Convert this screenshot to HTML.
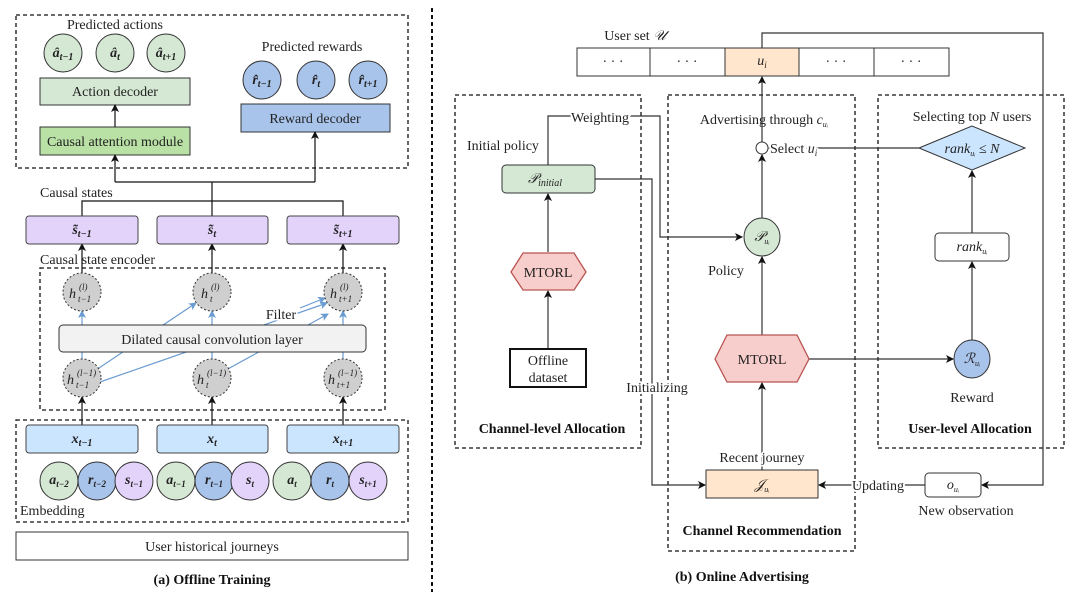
<!DOCTYPE html>
<html><head><meta charset="utf-8"><style>
html,body{margin:0;padding:0;background:#fff;}
svg{display:block;font-family:"Liberation Serif",serif;}
.t{font-size:14px;fill:#222;}
.m{font-style:italic;font-size:14px;fill:#222;}
.s{font-style:italic;font-size:9px;fill:#222;}
.b{font-weight:bold;font-size:14px;fill:#111;}
</style></head><body>
<svg width="1080" height="600" viewBox="0 0 1080 600" xmlns="http://www.w3.org/2000/svg">
<defs>
<marker id="a" markerWidth="8" markerHeight="8" refX="7" refY="4" orient="auto" markerUnits="userSpaceOnUse"><path d="M0,0 L8,4 L0,8 L2,4 z" fill="#111"/></marker>
<marker id="ab" markerWidth="8" markerHeight="8" refX="7" refY="4" orient="auto" markerUnits="userSpaceOnUse"><path d="M0,0 L8,4 L0,8 L2,4 z" fill="#6a9bd1"/></marker>
</defs>
<g fill="none" stroke="#111" stroke-width="1.3" stroke-dasharray="4,3">
<rect x="16" y="15" width="392" height="153"/>
<rect x="40" y="268" width="345" height="142"/>
<rect x="16" y="420" width="392" height="102"/>
<line x1="432" y1="8" x2="432" y2="592" stroke-width="2"/>
<rect x="455" y="95" width="186" height="353"/>
<rect x="668" y="95" width="187" height="456"/>
<rect x="878" y="95" width="186" height="353"/>
</g>
<!-- LEFT -->
<text class="t" x="115" y="29" text-anchor="middle">Predicted actions</text>
<g stroke="#333" fill="#d5e8d4">
<circle cx="63" cy="53" r="19"/><circle cx="115" cy="53" r="19"/><circle cx="166" cy="53" r="19"/>
<rect x="40" y="78" width="150" height="27"/>
<rect x="40" y="127" width="150" height="28" fill="#b9e0a5"/>
</g>
<text class="m" font-weight="bold" x="63" y="57" text-anchor="middle">â<tspan font-size="10" dy="3">t−1</tspan></text>
<text class="m" font-weight="bold" x="115" y="57" text-anchor="middle">â<tspan font-size="10" dy="3">t</tspan></text>
<text class="m" font-weight="bold" x="166" y="57" text-anchor="middle">â<tspan font-size="10" dy="3">t+1</tspan></text>
<text class="t" x="115" y="96" text-anchor="middle">Action decoder</text>
<text class="t" x="115" y="146" text-anchor="middle">Causal attention module</text>
<text class="t" x="312" y="51" text-anchor="middle">Predicted rewards</text>
<g stroke="#333" fill="#a9c4eb">
<circle cx="262" cy="80" r="19"/><circle cx="316" cy="80" r="19"/><circle cx="368" cy="80" r="19"/>
<rect x="241" y="104" width="149" height="28"/>
</g>
<text class="m" font-weight="bold" x="262" y="84" text-anchor="middle">r̂<tspan font-size="10" dy="3">t−1</tspan></text>
<text class="m" font-weight="bold" x="316" y="84" text-anchor="middle">r̂<tspan font-size="10" dy="3">t</tspan></text>
<text class="m" font-weight="bold" x="368" y="84" text-anchor="middle">r̂<tspan font-size="10" dy="3">t+1</tspan></text>
<text class="t" x="315" y="123" text-anchor="middle">Reward decoder</text>
<g stroke="#111" stroke-width="1.2" fill="none">
<line x1="115" y1="127" x2="115" y2="105" marker-end="url(#a)"/>
<polyline points="115,182 315,182"/>
<line x1="115" y1="182" x2="115" y2="155" marker-end="url(#a)"/>
<line x1="315" y1="182" x2="315" y2="132" marker-end="url(#a)"/>
<line x1="212" y1="182" x2="212" y2="216"/>
<polyline points="82,216 82,201 343,201 343,216"/>
<line x1="82" y1="273" x2="82" y2="244" marker-end="url(#a)"/>
<line x1="212" y1="273" x2="212" y2="244" marker-end="url(#a)"/>
<line x1="343" y1="273" x2="343" y2="244" marker-end="url(#a)"/>
<line x1="82" y1="425" x2="82" y2="397" marker-end="url(#a)"/>
<line x1="212" y1="425" x2="212" y2="397" marker-end="url(#a)"/>
<line x1="343" y1="425" x2="343" y2="397" marker-end="url(#a)"/>
</g>
<text class="t" x="40" y="197">Causal states</text>
<g stroke="#444" fill="#e3d3fb">
<rect x="26" y="216" width="112" height="28" rx="3"/><rect x="157" y="216" width="111" height="28" rx="3"/><rect x="287" y="216" width="112" height="28" rx="3"/>
</g>
<text class="m" font-weight="bold" x="82" y="234" text-anchor="middle">s̃<tspan font-size="10" dy="3">t−1</tspan></text>
<text class="m" font-weight="bold" x="212" y="234" text-anchor="middle">s̃<tspan font-size="10" dy="3">t</tspan></text>
<text class="m" font-weight="bold" x="343" y="234" text-anchor="middle">s̃<tspan font-size="10" dy="3">t+1</tspan></text>
<text class="t" x="40" y="264">Causal state encoder</text>
<g stroke="#6a9bd1" stroke-width="1.2" fill="none">
<line x1="82" y1="325" x2="82" y2="311" marker-end="url(#ab)"/>
<line x1="212" y1="325" x2="212" y2="311" marker-end="url(#ab)"/>
<line x1="343" y1="325" x2="343" y2="311" marker-end="url(#ab)"/>
<line x1="82" y1="359" x2="82" y2="352"/><line x1="212" y1="359" x2="212" y2="352"/><line x1="343" y1="359" x2="343" y2="352"/>
<line x1="96" y1="370" x2="196" y2="303" marker-end="url(#ab)"/>
<line x1="100" y1="382" x2="327" y2="303" marker-end="url(#ab)"/>
<line x1="226" y1="370" x2="328" y2="314" marker-end="url(#ab)"/>
<line x1="300" y1="308" x2="325" y2="298" marker-end="url(#ab)"/>
</g>
<rect x="59" y="325" width="307" height="27" rx="4" fill="#f2f2f2" stroke="#333"/>
<text class="t" x="212" y="344" text-anchor="middle">Dilated causal convolution layer</text>
<text class="t" x="281" y="319" text-anchor="middle" style="paint-order:stroke" stroke="#fff" stroke-width="3">Filter</text>
<g stroke="#333" fill="#cfcfcf" stroke-dasharray="2,2">
<circle cx="82" cy="292" r="19"/><circle cx="212" cy="292" r="19"/><circle cx="343" cy="292" r="19"/>
<circle cx="82" cy="378" r="19"/><circle cx="212" cy="378" r="19"/><circle cx="343" cy="378" r="19"/>
</g>
<g>
<text class="m" x="69" y="298" font-size="16">h</text><text class="s" x="79" y="290">(l)</text><text class="s" x="78" y="302">t−1</text>
<text class="m" x="201" y="298" font-size="16">h</text><text class="s" x="211" y="290">(l)</text><text class="s" x="210" y="302">t</text>
<text class="m" x="330" y="298" font-size="16">h</text><text class="s" x="340" y="290">(l)</text><text class="s" x="339" y="302">t+1</text>
<text class="m" x="67" y="384" font-size="16">h</text><text class="s" x="77" y="376">(l−1)</text><text class="s" x="76" y="388">t−1</text>
<text class="m" x="197" y="384" font-size="16">h</text><text class="s" x="207" y="376">(l−1)</text><text class="s" x="206" y="388">t</text>
<text class="m" x="328" y="384" font-size="16">h</text><text class="s" x="338" y="376">(l−1)</text><text class="s" x="337" y="388">t+1</text>
</g>
<g stroke="#444" fill="#cce5ff">
<rect x="26" y="425" width="112" height="28" rx="3"/><rect x="157" y="425" width="111" height="28" rx="3"/><rect x="287" y="425" width="112" height="28" rx="3"/>
</g>
<text class="m" font-weight="bold" x="82" y="443" text-anchor="middle">x<tspan font-size="10" dy="3">t−1</tspan></text>
<text class="m" font-weight="bold" x="212" y="443" text-anchor="middle">x<tspan font-size="10" dy="3">t</tspan></text>
<text class="m" font-weight="bold" x="343" y="443" text-anchor="middle">x<tspan font-size="10" dy="3">t+1</tspan></text>
<g stroke="#333">
<circle cx="59" cy="481" r="19" fill="#d5e8d4"/><circle cx="97" cy="481" r="19" fill="#a9c4eb"/><circle cx="134" cy="481" r="19" fill="#e3d3fb"/>
<circle cx="176" cy="481" r="19" fill="#d5e8d4"/><circle cx="214" cy="481" r="19" fill="#a9c4eb"/><circle cx="250" cy="481" r="19" fill="#e3d3fb"/>
<circle cx="292" cy="481" r="19" fill="#d5e8d4"/><circle cx="330" cy="481" r="19" fill="#a9c4eb"/><circle cx="368" cy="481" r="19" fill="#e3d3fb"/>
</g>
<g font-weight="bold">
<text class="m" x="59" y="484" text-anchor="middle">a<tspan font-size="9" dy="3">t−2</tspan></text>
<text class="m" x="97" y="484" text-anchor="middle">r<tspan font-size="9" dy="3">t−2</tspan></text>
<text class="m" x="134" y="484" text-anchor="middle">s<tspan font-size="9" dy="3">t−1</tspan></text>
<text class="m" x="176" y="484" text-anchor="middle">a<tspan font-size="9" dy="3">t−1</tspan></text>
<text class="m" x="214" y="484" text-anchor="middle">r<tspan font-size="9" dy="3">t−1</tspan></text>
<text class="m" x="250" y="484" text-anchor="middle">s<tspan font-size="9" dy="3">t</tspan></text>
<text class="m" x="292" y="484" text-anchor="middle">a<tspan font-size="9" dy="3">t</tspan></text>
<text class="m" x="330" y="484" text-anchor="middle">r<tspan font-size="9" dy="3">t</tspan></text>
<text class="m" x="368" y="484" text-anchor="middle">s<tspan font-size="9" dy="3">t+1</tspan></text>
</g>
<text class="t" x="20" y="515">Embedding</text>
<rect x="16" y="532" width="392" height="28" fill="#fff" stroke="#333"/>
<text class="t" x="212" y="551" text-anchor="middle" fill="#444">User historical journeys</text>
<text class="b" x="212" y="584" text-anchor="middle">(a) Offline Training</text>
<!-- RIGHT -->
<text class="t" x="635" y="40" text-anchor="middle">User set <tspan font-style="italic">𝒰</tspan></text>
<g stroke="#333" fill="#fff">
<rect x="577" y="48" width="73" height="28"/><rect x="650" y="48" width="75" height="28"/>
<rect x="725" y="48" width="74" height="28" fill="#ffe6cc"/>
<rect x="799" y="48" width="75" height="28"/><rect x="874" y="48" width="75" height="28"/>
</g>
<text class="t" x="613" y="66" text-anchor="middle">· · ·</text><text class="t" x="687" y="66" text-anchor="middle">· · ·</text>
<text class="m" x="762" y="65" text-anchor="middle">u<tspan font-size="9" dy="3">i</tspan></text>
<text class="t" x="836" y="66" text-anchor="middle">· · ·</text><text class="t" x="911" y="66" text-anchor="middle">· · ·</text>
<g stroke="#333" stroke-width="1.2" fill="none">
<polyline points="762,48 762,33 1043,33 1043,485 982,485" marker-end="url(#a)"/>
<polyline points="548,165 548,116 660,116 660,237 742,237" marker-end="url(#a)"/>
<polyline points="595,179 652,179 652,485 705,485" marker-end="url(#a)"/>
<line x1="548" y1="349" x2="548" y2="291" marker-end="url(#a)"/>
<line x1="548" y1="252" x2="548" y2="194" marker-end="url(#a)"/>
<line x1="762" y1="142" x2="762" y2="77" marker-end="url(#a)"/>
<line x1="919" y1="148" x2="769" y2="148" marker-end="url(#a)"/>
<line x1="762" y1="218" x2="762" y2="155" marker-end="url(#a)"/>
<line x1="762" y1="335" x2="762" y2="257" marker-end="url(#a)"/>
<line x1="972" y1="233" x2="972" y2="171" marker-end="url(#a)"/>
<line x1="972" y1="341" x2="972" y2="262" marker-end="url(#a)"/>
<line x1="809" y1="359" x2="953" y2="359" marker-end="url(#a)"/>
<line x1="762" y1="470" x2="762" y2="383" marker-end="url(#a)"/>
<line x1="925" y1="485" x2="819" y2="485" marker-end="url(#a)"/>
</g>
<text class="t" x="600" y="122" text-anchor="middle" style="paint-order:stroke" stroke="#fff" stroke-width="4">Weighting</text>
<text class="t" x="467" y="150">Initial policy</text>
<rect x="502" y="165" width="93" height="28" rx="4" fill="#d5e8d4" stroke="#333"/>
<text class="m" x="545" y="183" text-anchor="middle">𝒫<tspan font-size="10" dy="3">initial</tspan></text>
<polygon points="511,272 523,253 574,253 586,272 574,290 523,290" fill="#f8cecc" stroke="#b85450" stroke-width="1.3"/>
<text class="t" x="548" y="277" text-anchor="middle">MTORL</text>
<rect x="510" y="349" width="76" height="38" fill="#fff" stroke="#111" stroke-width="2"/>
<text class="t" x="548" y="365" text-anchor="middle" fill="#333">Offline</text>
<text class="t" x="548" y="382" text-anchor="middle" fill="#333">dataset</text>
<text class="b" x="552" y="433" text-anchor="middle">Channel-level Allocation</text>
<text class="t" x="657" y="392" text-anchor="middle" style="paint-order:stroke" stroke="#fff" stroke-width="4">Initializing</text>
<text class="t" x="764" y="124" text-anchor="middle">Advertising through <tspan font-style="italic">c<tspan font-size="8" dy="3">uᵢ</tspan></tspan></text>
<circle cx="762" cy="148" r="6" fill="#fff" stroke="#333"/>
<text class="t" x="770" y="153" style="paint-order:stroke" stroke="#fff" stroke-width="4">Select <tspan font-style="italic">u<tspan font-size="9" dy="3">i</tspan></tspan></text>
<text class="t" x="972" y="121" text-anchor="middle">Selecting top <tspan font-style="italic">N</tspan> users</text>
<polygon points="919,148 972,126 1025,148 972,170" fill="#cce5ff" stroke="#333"/>
<text class="m" x="972" y="153" text-anchor="middle">rank<tspan font-size="8" dy="3">uᵢ</tspan><tspan dy="-3"> ≤ N</tspan></text>
<rect x="935" y="233" width="74" height="28" rx="4" fill="#fff" stroke="#333"/>
<text class="m" x="972" y="251" text-anchor="middle">rank<tspan font-size="8" dy="3">uᵢ</tspan></text>
<ellipse cx="972" cy="359" rx="18" ry="19" fill="#a9c4eb" stroke="#333"/>
<text class="m" x="972" y="363" text-anchor="middle">ℛ<tspan font-size="8" dy="3">uᵢ</tspan></text>
<text class="t" x="972" y="402" text-anchor="middle">Reward</text>
<text class="b" x="970" y="433" text-anchor="middle">User-level Allocation</text>
<ellipse cx="762" cy="237" rx="18" ry="19" fill="#d5e8d4" stroke="#333"/>
<text class="m" x="762" y="241" text-anchor="middle">𝒫<tspan font-size="8" dy="3">uᵢ</tspan></text>
<text class="t" x="726" y="275" text-anchor="middle">Policy</text>
<polygon points="715,359 727,335 797,335 809,359 797,382 727,382" fill="#f8cecc" stroke="#b85450" stroke-width="1.3"/>
<text class="t" x="762" y="364" text-anchor="middle">MTORL</text>
<text class="t" x="762" y="462" text-anchor="middle" style="paint-order:stroke" stroke="#fff" stroke-width="3">Recent journey</text>
<rect x="706" y="470" width="112" height="28" fill="#ffe6cc" stroke="#333"/>
<text class="m" x="762" y="489" text-anchor="middle">𝒥<tspan font-size="8" dy="3">uᵢ</tspan></text>
<text class="t" x="878" y="490" text-anchor="middle" style="paint-order:stroke" stroke="#fff" stroke-width="4">Updating</text>
<rect x="925" y="473" width="56" height="24" rx="4" fill="#fff" stroke="#333"/>
<text class="m" x="953" y="489" text-anchor="middle">o<tspan font-size="8" dy="3">uᵢ</tspan></text>
<text class="t" x="966" y="515" text-anchor="middle">New observation</text>
<text class="b" x="762" y="535" text-anchor="middle">Channel Recommendation</text>
<text class="b" x="742" y="581" text-anchor="middle">(b) Online Advertising</text>
</svg>
</body></html>
